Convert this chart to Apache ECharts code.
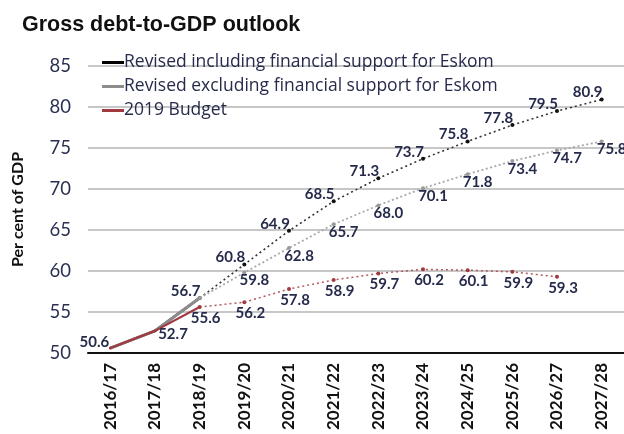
<!DOCTYPE html>
<html><head><meta charset="utf-8">
<script src="https://cdn.jsdelivr.net/npm/echarts@6/dist/echarts.min.js"></script>
<style>html,body{margin:0;padding:0;background:#fff}#c{width:624px;height:434px}</style>
</head><body><div id="c"></div>
<script>
const categories = ['2016/17','2017/18','2018/19','2019/20','2020/21','2021/22','2022/23','2023/24','2024/25','2025/26','2026/27','2027/28'];
const inclValues = [50.6, 52.7, 56.7, 60.8, 64.9, 68.5, 71.3, 73.7, 75.8, 77.8, 79.5, 80.9];
const exclValues = [50.6, 52.7, 56.7, 59.8, 62.8, 65.7, 68.0, 70.1, 71.8, 73.4, 74.7, 75.8];
const budgetValues = [50.6, 52.7, 55.6, 56.2, 57.8, 58.9, 59.7, 60.2, 60.1, 59.9, 59.3, null];
const lastActual = 2;
const yTicks = [50, 55, 60, 65, 70, 75, 80, 85];

const nameIncl = 'Revised including financial support for Eskom';
const nameExcl = 'Revised excluding financial support for Eskom';
const nameBud = '2019 Budget';

const labelColor = '#262b4c';
const fmt = p => Number(p.value).toFixed(1);
const lblFont = {fontFamily:'Lato', fontWeight:'bold', fontSize:15, color:labelColor, formatter:fmt};

function actual(vals){ return vals.map((v,i)=> i<=lastActual ? v : null); }
function proj(vals, labelFrom){
  return vals.map((v,i)=> {
    if (i < lastActual) return null;
    if (i < labelFrom) return {value:v, label:{show:false}};
    return v;
  });
}

const chart = echarts.init(document.getElementById('c'));
chart.setOption({
  animation:false,
  title:{text:'Gross debt-to-GDP outlook', left:17, top:9,
    textStyle:{fontFamily:'Liberation Sans', fontWeight:'bold', fontSize:21.5, color:'#111'}},
  legend:{orient:'vertical', left:97, top:48, itemWidth:22, itemHeight:3, itemGap:5,
    icon:'rect',
    textStyle:{fontFamily:'Open Sans', fontSize:17.5, color:labelColor, lineHeight:19, padding:[0,0,0,-5]},
    data:[{name:nameIncl, itemStyle:{color:'#000'}},{name:nameExcl, itemStyle:{color:'#8c8c8c'}},{name:nameBud, itemStyle:{color:'#a03a40'}}]},
  grid:{left:88, right:-9, top:66, bottom:81},
  xAxis:{type:'category', data:categories, boundaryGap:true,
    axisLine:{lineStyle:{color:'#111', width:2}}, axisTick:{show:false},
    axisLabel:{rotate:90, margin:10, fontFamily:'Lato', fontWeight:'bold', fontSize:17, color:'#111', interval:0}},
  yAxis:{type:'value', min:yTicks[0], max:yTicks[yTicks.length-1], interval:5,
    name:'Per cent of GDP', nameLocation:'middle', nameRotate:90, nameGap:62,
    nameTextStyle:{fontFamily:'Lato', fontWeight:'bold', fontSize:16, color:'#111'},
    axisLine:{show:false}, axisTick:{show:false},
    axisLabel:{margin:17, fontFamily:'Lato', fontSize:18.5, color:'#2a3052'},
    splitLine:{lineStyle:{color:'#b4b4b4', width:1.5}}},
  series:[
    {name:nameIncl, type:'line', data:actual(inclValues), symbol:'none', z:2,
      lineStyle:{color:'#000', width:2.5}, itemStyle:{color:'#000'}},
    {name:nameExcl, type:'line', data:actual(exclValues), symbol:'none', z:3,
      lineStyle:{color:'#8c8c8c', width:3}, itemStyle:{color:'#8c8c8c'}},
    {name:nameBud, type:'line', z:4, symbol:'circle', symbolSize:3,
      data:actual(budgetValues).map((v,i)=>{
        if (v===null) return null;
        if (i===0) return {value:v, label:{show:true, position:'inside', offset:[-16,-6]}};
        if (i===1) return {value:v, label:{show:true, position:'inside', offset:[18,3]}};
        return {value:v, symbol:'none'};
      }),
      label:{show:false, ...lblFont},
      lineStyle:{color:'#a03a40', width:2.2}, itemStyle:{color:'#a03a40'}},
    {name:nameIncl, type:'line', data:proj(inclValues, lastActual), z:2, symbol:'circle', symbolSize:4,
      lineStyle:{color:'#333', width:1.6, type:[2,3]}, itemStyle:{color:'#111'},
      label:{show:true, position:'inside', offset:[-14,-7], ...lblFont}},
    {name:nameExcl, type:'line', data:proj(exclValues, lastActual+1), z:3, symbol:'circle', symbolSize:4,
      lineStyle:{color:'#a8a8a8', width:1.8, type:[2,2.5]}, itemStyle:{color:'#9a9a9a'},
      label:{show:true, position:'inside', offset:[10,8], ...lblFont}},
    {name:nameBud, type:'line', data:proj(budgetValues, lastActual), z:4, symbol:'circle', symbolSize:4,
      lineStyle:{color:'#b0585d', width:1.5, type:[2,3]}, itemStyle:{color:'#a03a40'},
      label:{show:true, position:'inside', offset:[6,11], ...lblFont}}
  ]
});
</script></body></html>
